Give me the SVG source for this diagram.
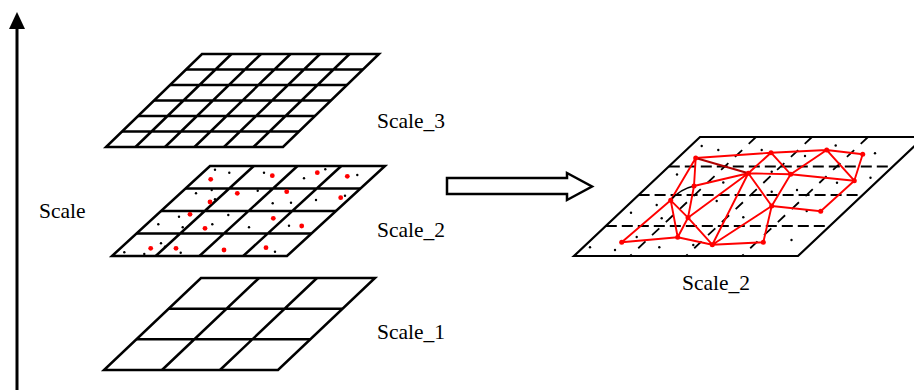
<svg xmlns="http://www.w3.org/2000/svg" width="914" height="390" viewBox="0 0 914 390">
<defs>
<style>
.g{fill:none;stroke:#000;stroke-width:2.5;stroke-linejoin:miter}
.t{font-family:"Liberation Serif","Times New Roman",serif;font-size:21.5px;fill:#000}
.rd{fill:#f00}
.bd{fill:#000}
.dh{stroke:#000;stroke-width:2.2;stroke-dasharray:11 5;fill:none}
.ds{stroke:#000;stroke-width:1.8;stroke-dasharray:10 9;fill:none}
.re{stroke:#f00;stroke-width:1.9;fill:none}
</style>
</defs>
<rect width="914" height="390" fill="#fff"/>

<g id="connectors">
  <g id="scale-axis">
    <line x1="17" y1="390" x2="17" y2="27" stroke="#000" stroke-width="3"/>
    <polygon points="17,12 9,29 25,29" fill="#000"/>
  </g>
  <g id="transform-arrow">
    <polygon points="447,178 567,178 567,173 592,186.5 567,200 567,194 447,194" fill="#fff" stroke="#000" stroke-width="2.5" stroke-linejoin="miter"/>
  </g>
</g>

<g id="axis-label"><text class="t" x="39" y="218">Scale</text></g>

<g id="scale3">
  <polygon class="g" points="202,54 379,54 283,147 106,147"/>
  <path class="g" d="M186,69.5H363M170,85H347M154,100.5H331M138,116H315M122,131.5H299
  M231.5,54L135.5,147M261,54L165,147M290.5,54L194.5,147M320,54L224,147M349.5,54L253.5,147"/>
  <text class="t" x="377" y="128">Scale_3</text>
</g>

<g id="scale2">
  <polygon class="g" points="210,166 385,166 287,256 112,256"/>
  <path class="g" d="M185.5,188.5H360.5M161,211H336M136.5,233.5H311.5
  M253.75,166L155.75,256M297.5,166L199.5,256M341.25,166L243.25,256"/>
  <g class="rd">
    <circle cx="210.7" cy="179.3" r="2.4"/><circle cx="272.3" cy="175.7" r="2.4"/>
    <circle cx="317.3" cy="172.7" r="2.4"/><circle cx="347.3" cy="176.3" r="2.4"/>
    <circle cx="210" cy="202" r="2.4"/><circle cx="237.3" cy="193.3" r="2.4"/>
    <circle cx="286.7" cy="191.7" r="2.4"/><circle cx="340.7" cy="197.7" r="2.4"/>
    <circle cx="190" cy="214.3" r="2.4"/><circle cx="205" cy="228.3" r="2.4"/>
    <circle cx="273.3" cy="218.3" r="2.4"/><circle cx="301.7" cy="226" r="2.4"/>
    <circle cx="150.7" cy="248.3" r="2.4"/><circle cx="176" cy="248.3" r="2.4"/>
    <circle cx="224" cy="250" r="2.4"/><circle cx="266" cy="247.7" r="2.4"/>
  </g>
  <g class="bd">
    <circle cx="215" cy="169.7" r="1.2"/><circle cx="229.3" cy="172.7" r="1.2"/>
    <circle cx="264" cy="172.7" r="1.2"/><circle cx="304" cy="178.3" r="1.2"/>
    <circle cx="325.3" cy="169.3" r="1.2"/><circle cx="357.3" cy="175" r="1.2"/>
    <circle cx="196" cy="193.3" r="1.2"/><circle cx="211.7" cy="190" r="1.2"/>
    <circle cx="215" cy="199.3" r="1.2"/><circle cx="257.7" cy="190.7" r="1.2"/>
    <circle cx="272.7" cy="203.3" r="1.2"/><circle cx="291" cy="202.7" r="1.2"/>
    <circle cx="316" cy="200" r="1.2"/><circle cx="345" cy="195.7" r="1.2"/>
    <circle cx="179" cy="216.7" r="1.2"/><circle cx="158.3" cy="224.3" r="1.2"/>
    <circle cx="182.7" cy="227.3" r="1.2"/><circle cx="228.3" cy="215" r="1.2"/>
    <circle cx="212.3" cy="224.3" r="1.2"/><circle cx="249" cy="227.3" r="1.2"/>
    <circle cx="289" cy="225.7" r="1.2"/><circle cx="161" cy="243.3" r="1.2"/>
    <circle cx="165" cy="246.7" r="1.2"/><circle cx="124.3" cy="252.3" r="1.2"/>
    <circle cx="144.3" cy="254" r="1.2"/><circle cx="180.7" cy="252.7" r="1.2"/>
    <circle cx="275" cy="251.7" r="1.2"/>
  </g>
  <text class="t" x="377" y="236.5">Scale_2</text>
</g>

<g id="scale1">
  <polygon class="g" points="201,278 375,278 278,370 104,370"/>
  <path class="g" d="M168.7,308.7H342.7M136.3,339.3H310.3M259,278L162,370M317,278L220,370"/>
  <text class="t" x="377" y="339">Scale_1</text>
</g>

<g id="scale2-triangulated">
  <polyline points="924,137 700,137 574,256 798,256 924,137" fill="none" stroke="#000" stroke-width="2.2"/>
  <path class="dh" d="M668.8,166.5H892.8M638.6,195H862.6M605.8,226H829.8"/>
  <path class="ds" d="M756,137L630,256M812,137L686,256M868,137L742,256"/>
  <g class="bd">
    <circle cx="701.7" cy="146" r="1.2"/><circle cx="718.3" cy="150" r="1.2"/>
    <circle cx="761.7" cy="150" r="1.2"/><circle cx="835.7" cy="145.5" r="1.2"/>
    <circle cx="875" cy="153.3" r="1.2"/><circle cx="805" cy="156" r="1.2"/>
    <circle cx="677" cy="174.5" r="1.2"/><circle cx="723.3" cy="182.5" r="1.2"/>
    <circle cx="771.7" cy="171.7" r="1.2"/><circle cx="837" cy="182.7" r="1.2"/>
    <circle cx="870.5" cy="177.7" r="1.2"/><circle cx="771.7" cy="191.7" r="1.2"/>
    <circle cx="797" cy="190" r="1.2"/><circle cx="656.7" cy="205" r="1.2"/>
    <circle cx="716.7" cy="201" r="1.2"/><circle cx="631" cy="212.7" r="1.2"/>
    <circle cx="661.7" cy="218.3" r="1.2"/><circle cx="743.3" cy="217.3" r="1.2"/>
    <circle cx="806.7" cy="211" r="1.2"/><circle cx="636.7" cy="237" r="1.2"/>
    <circle cx="693.3" cy="245" r="1.2"/><circle cx="791.5" cy="240" r="1.2"/>
    <circle cx="590" cy="247.3" r="1.2"/><circle cx="615" cy="250" r="1.2"/>
    <circle cx="659.3" cy="247.3" r="1.2"/>
  </g>
  <path class="re" d="M695.7,158L771,152.7L826.7,150L862.7,154.3
  M695.7,158L694,186M695.7,158L670.7,200.3M694,186L748.3,173.3M694,186L688,217.7
  M670.7,200.3L621.7,242.3M670.7,200.3L677.7,237.3M670.7,200.3L688,217.7
  M688,217.7L748.3,173.3M688,217.7L677.7,237.3M688,217.7L712.3,244.7
  M621.7,242.3L677.7,237.3L712.3,244.7L763.3,242.3L771.7,206
  M712.3,244.7L748.3,173.3M712.3,244.7L771.7,206
  M771.7,206L748.3,173.3M771.7,206L790.7,174.3M771.7,206L820.7,211.3L854.3,180.7
  M748.3,173.3L771,152.7L790.7,174.3L826.7,150L854.3,180.7L862.7,154.3
  M748.3,173.3L790.7,174.3L854.3,180.7"/>
  <line x1="695.7" y1="158" x2="748.3" y2="173.3" stroke="#b00000" stroke-width="2"/>
  <path d="M670.7,200.3Q680,189 694,186" fill="none" stroke="#000" stroke-width="1.6"/>
  <g class="rd">
    <circle cx="695.7" cy="158" r="2.5"/><circle cx="771" cy="152.7" r="2.5"/>
    <circle cx="826.7" cy="150" r="2.5"/><circle cx="862.7" cy="154.3" r="2.5"/>
    <circle cx="748.3" cy="173.3" r="2.5"/><circle cx="790.7" cy="174.3" r="2.5"/>
    <circle cx="854.3" cy="180.7" r="2.5"/><circle cx="694" cy="186" r="2.5"/>
    <circle cx="670.7" cy="200.3" r="2.5"/><circle cx="771.7" cy="206" r="2.5"/>
    <circle cx="820.7" cy="211.3" r="2.5"/><circle cx="688" cy="217.7" r="2.5"/>
    <circle cx="621.7" cy="242.3" r="2.5"/><circle cx="677.7" cy="237.3" r="2.5"/>
    <circle cx="712.3" cy="244.7" r="2.5"/><circle cx="763.3" cy="242.3" r="2.5"/>
  </g>
  <text class="t" x="682" y="289.5">Scale_2</text>
</g>
</svg>
